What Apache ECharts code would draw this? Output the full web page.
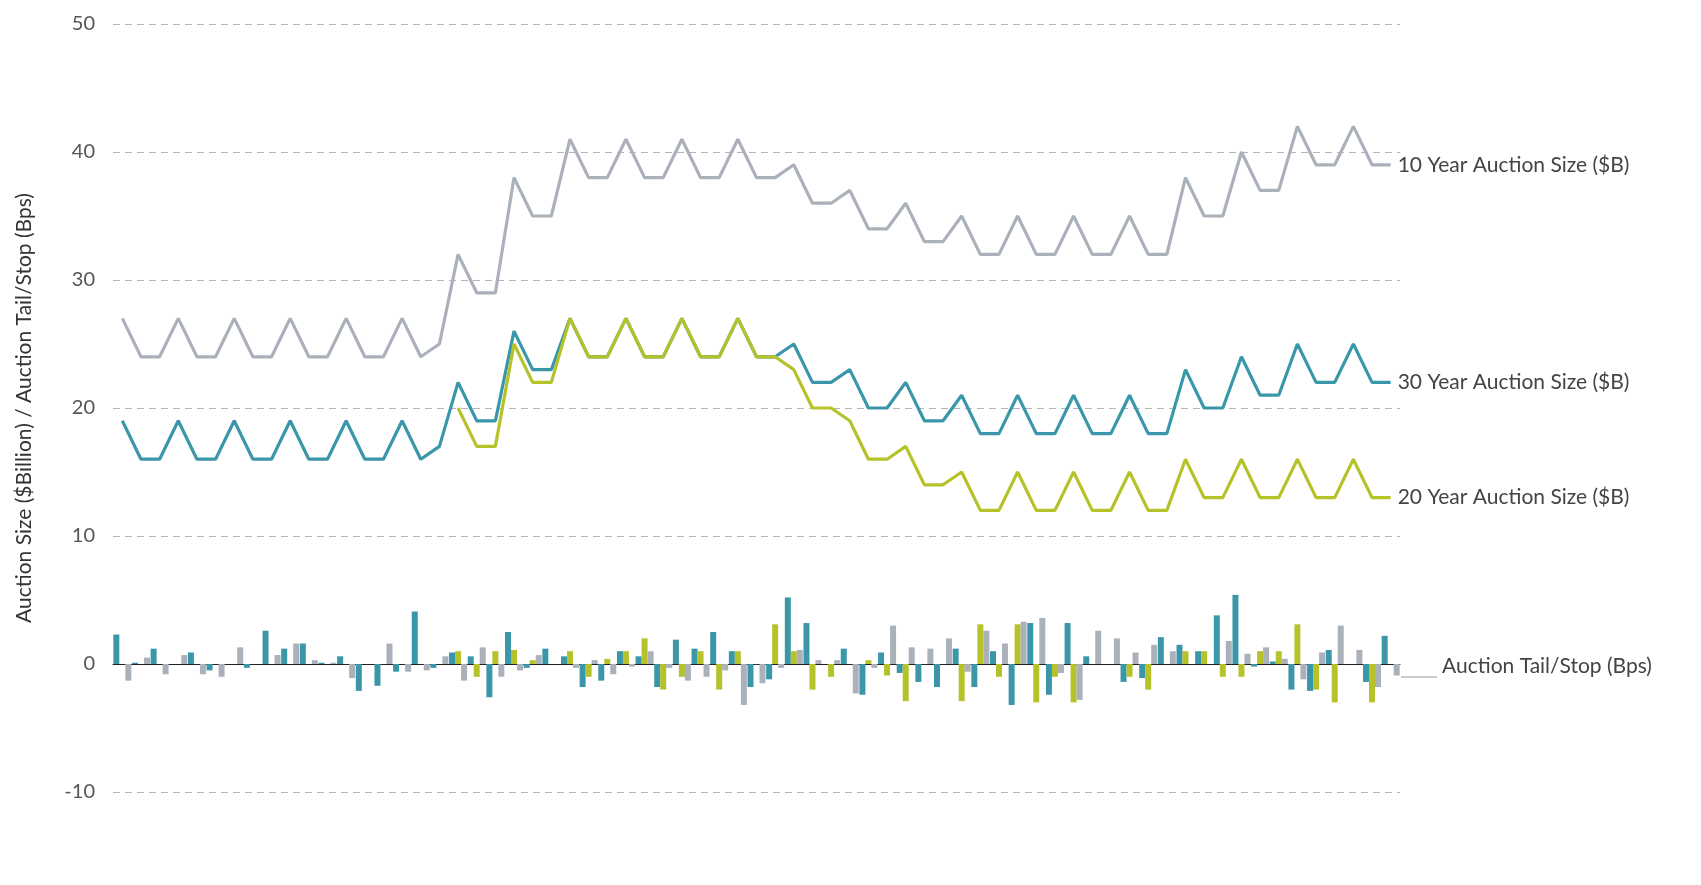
<!DOCTYPE html>
<html><head><meta charset="utf-8">
<script src="https://cdn.jsdelivr.net/npm/echarts@6/dist/echarts.min.js"></script>
<style>html,body{margin:0;padding:0;background:#fff}#c{width:1701px;height:885px}</style>
</head><body><div id="c"></div>
<script>
const mon=['Jan','Feb','Mar','Apr','May','Jun','Jul','Aug','Sep','Oct','Nov','Dec'];
const categories=[];
for(let i=0;i<69;i++){const m=(10+i)%12, y=18+Math.floor((10+i)/12);categories.push(mon[m]+'-'+y);}
const size10=[27,24,24,27,24,24,27,24,24,27,24,24,27,24,24,27,24,25,32,29,29,38,35,35,41,38,38,41,38,38,41,38,38,41,38,38,39,36,36,37,34,34,36,33,33,35,32,32,35,32,32,35,32,32,35,32,32,38,35,35,40,37,37,42,39,39,42,39,39];
const size30=[19,16,16,19,16,16,19,16,16,19,16,16,19,16,16,19,16,17,22,19,19,26,23,23,27,24,24,27,24,24,27,24,24,27,24,24,25,22,22,23,20,20,22,19,19,21,18,18,21,18,18,21,18,18,21,18,18,23,20,20,24,21,21,25,22,22,25,22,22];
const size20=[null,null,null,null,null,null,null,null,null,null,null,null,null,null,null,null,null,null,20,17,17,25,22,22,27,24,24,27,24,24,27,24,24,27,24,24,23,20,20,19,16,16,17,14,14,15,12,12,15,12,12,15,12,12,15,12,12,16,13,13,16,13,13,16,13,13,16,13,13];
const tail30=[2.3,0.1,1.2,0,0.9,-0.5,0,-0.3,2.6,1.2,1.6,0.1,0.6,-2.1,-1.7,-0.6,4.1,-0.3,0.9,0.6,-2.6,2.5,-0.3,1.2,0.6,-1.8,-1.3,1.0,0.6,-1.8,1.9,1.2,2.5,1.0,-1.8,-1.2,5.2,3.2,0,1.2,-2.4,0.9,-0.7,-1.4,-1.8,1.2,-1.8,1.0,-3.2,3.2,-2.4,3.2,0.6,0,-1.4,-1.1,2.1,1.5,1.0,3.8,5.4,-0.2,0.2,-2.0,-2.1,1.1,0,-1.4,2.2];
const tail20=[null,null,null,null,null,null,null,null,null,null,null,null,null,null,null,null,null,null,1.0,-1.0,1.0,1.1,0.3,0,1.0,-1.0,0.4,1.0,2.0,-2.0,-1.0,1.0,-2.0,1.0,0,3.1,1.0,-2.0,-1.0,0,0.3,-0.9,-2.9,0,0,-2.9,3.1,-1.0,3.1,-3.0,-1.0,-3.0,0,0,-1.0,-2.0,0,1.0,1.0,-1.0,-1.0,1.0,1.0,3.1,-2.0,-3.0,0,-3.0,0];
const tail10=[-1.3,0.5,-0.8,0.7,-0.8,-1.0,1.3,0,0.7,1.6,0.3,0.1,-1.1,0,1.6,-0.6,-0.5,0.6,-1.3,1.3,-1.0,-0.5,0.7,0,-0.3,0.3,-0.8,-0.2,1.0,-0.3,-1.3,-1.0,-0.5,-3.2,-1.5,-0.3,1.1,0.3,0.3,-2.3,-0.3,3.0,1.3,1.2,2.0,-0.6,2.6,1.6,3.3,3.6,-0.7,-2.8,2.6,2.0,0.9,1.5,1.0,0,0,1.8,0.8,1.3,0.4,-1.2,0.9,3.0,1.1,-1.8,-0.9];
const C={teal:'#3a97a9',green:'#b5c22a',gray:'#aab1ba'};
const ch=echarts.init(document.getElementById('c'));
const lbl=(t)=>({show:true,formatter:t,color:'#444',fontSize:21,fontFamily:'Lato',distance:7});
ch.setOption({
 animation:false,
 grid:{left:113,right:301,top:24,bottom:93,outerBoundsMode:'none',containLabel:false},
 xAxis:{type:'category',data:categories,boundaryGap:true,
  axisLine:{onZero:true,lineStyle:{color:'#222',width:1}},
  axisTick:{interval:(i)=>i%6===0,length:5,lineStyle:{color:'#222'},alignWithLabel:true},
  axisLabel:{interval:(i)=>i%6===0,rotate:45,color:'#555',fontSize:19,fontFamily:'Lato',margin:152}},
 yAxis:{type:'value',min:-10,max:50,interval:10,
  name:'Auction Size ($Billion) / Auction Tail/Stop (Bps)',nameLocation:'middle',nameGap:78,
  nameTextStyle:{color:'#333',fontSize:21,fontFamily:'Lato'},
  axisLine:{show:false},axisTick:{show:false},
  axisLabel:{color:'#555',fontSize:20,fontFamily:'Lato',margin:18},
  splitLine:{lineStyle:{type:[7,5],color:'#b5b5b5',width:1}}},
 series:[
  {type:'bar',data:tail30,itemStyle:{color:C.teal},barWidth:6,barGap:'0%'},
  {type:'bar',data:tail20,itemStyle:{color:C.green},barWidth:6,barGap:'0%'},
  {type:'bar',data:tail10,itemStyle:{color:C.gray},barWidth:6,barGap:'0%'},
  {type:'line',data:size10,showSymbol:false,lineStyle:{color:C.gray,width:3.2},itemStyle:{color:C.gray},endLabel:lbl('10 Year Auction Size ($B)')},
  {type:'line',data:size30,showSymbol:false,lineStyle:{color:C.teal,width:3.2},itemStyle:{color:C.teal},endLabel:lbl('30 Year Auction Size ($B)')},
  {type:'line',data:size20,showSymbol:false,lineStyle:{color:C.green,width:3.2},itemStyle:{color:C.green},endLabel:lbl('20 Year Auction Size ($B)')}
 ],
 graphic:[
  {type:'line',shape:{x1:1401,y1:677,x2:1437,y2:677},style:{stroke:'#999',lineWidth:1}},
  {type:'text',left:1442,top:656,style:{text:'Auction Tail/Stop (Bps)',fill:'#444',fontSize:21,fontFamily:'Lato'}}
 ]
});
</script></body></html>
